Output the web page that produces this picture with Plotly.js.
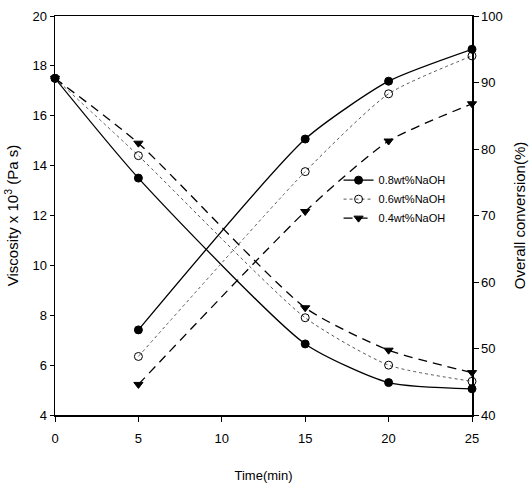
<!DOCTYPE html>
<html><head><meta charset="utf-8">
<script src="https://cdn.plot.ly/plotly-3.0.1.min.js"></script>
<style>html,body{margin:0;padding:0;background:#fff;}</style>
</head><body>
<div id="chart" style="width:531px;height:487px;"></div>
<script>
const time = [0, 5, 15, 20, 25];
const timeConv = [5, 15, 20, 25];
const series = ['0.8wt%NaOH', '0.6wt%NaOH', '0.4wt%NaOH'];
const visc08 = [17.5, 13.5, 6.85, 5.3, 5.05];
const visc06 = [17.5, 14.4, 7.9, 6.0, 5.35];
const visc04 = [17.5, 14.9, 8.3, 6.6, 5.7];
const conv08 = [52.8, 81.5, 90.2, 95.0];
const conv06 = [48.8, 76.6, 88.3, 94.0];
const conv04 = [44.6, 70.6, 81.2, 86.8];
const xTicks = [0, 5, 10, 15, 20, 25];
const yTicks = [4, 6, 8, 10, 12, 14, 16, 18, 20];
const y2Ticks = [40, 50, 60, 70, 80, 90, 100];

const styles = [
  {line: {color: '#000', width: 1.3, dash: 'solid', shape: 'spline', smoothing: 0.6},
   marker: {symbol: 'circle', size: 8, color: '#000', line: {color: '#000', width: 1}}},
  {line: {color: '#555', width: 1, dash: 'dot', shape: 'spline', smoothing: 0.6},
   marker: {symbol: 'circle-open', size: 8, color: '#000', line: {color: '#000', width: 1}}},
  {line: {color: '#000', width: 1.3, dash: '9px,6px', shape: 'spline', smoothing: 0.6},
   marker: {symbol: 'triangle-down', size: 8, color: '#000', line: {color: '#000', width: 1}}}
];
const viscs = [visc08, visc06, visc04];
const convs = [conv08, conv06, conv04];
const traces = [];
for (let i = 0; i < 3; i++) {
  traces.push({x: time, y: viscs[i], type: 'scatter', mode: 'lines+markers', name: series[i],
    line: styles[i].line, marker: styles[i].marker, showlegend: false, cliponaxis: false, yaxis: 'y'});
}
for (let i = 0; i < 3; i++) {
  traces.push({x: timeConv, y: convs[i], type: 'scatter', mode: 'lines+markers', name: series[i],
    line: styles[i].line, marker: styles[i].marker, showlegend: true, cliponaxis: false, yaxis: 'y2'});
}
const fam = 'Liberation Sans, Arial, sans-serif';
const layout = {
  width: 531, height: 487,
  margin: {l: 55, r: 59, t: 16, b: 72},
  paper_bgcolor: '#fff', plot_bgcolor: '#fff',
  font: {family: fam, color: '#000', size: 13},
  showlegend: true,
  legend: {x: 0.68, y: 0.625, xanchor: 'left', yanchor: 'top', bgcolor: 'rgba(0,0,0,0)',
    font: {family: fam, size: 11, color: '#000'}, tracegroupgap: 0, itemwidth: 30},
  xaxis: {range: [0, 25], tickvals: xTicks, ticks: 'outside', ticklen: 5, tickcolor: '#000',
    showline: true, linecolor: '#000', linewidth: 1.5, mirror: true, showgrid: false, zeroline: false,
    ticklabelstandoff: 6,
    tickfont: {family: fam, size: 13, color: '#000'},
    title: {text: 'Time(min)', font: {family: fam, size: 13, color: '#000'}, standoff: 26}},
  yaxis: {range: [4, 20], tickvals: yTicks, ticks: 'outside', ticklen: 4, tickcolor: '#000',
    showline: true, linecolor: '#000', linewidth: 1.5, showgrid: false, zeroline: false,
    tickfont: {family: fam, size: 13, color: '#000'},
    title: {text: 'Viscosity x 10<sup>3</sup> (Pa s)', font: {family: fam, size: 15, color: '#000'}, standoff: 10}},
  yaxis2: {range: [40, 100], tickvals: y2Ticks, overlaying: 'y', side: 'right', ticks: 'outside', ticklen: 5, tickcolor: '#000',
    showline: true, linecolor: '#000', linewidth: 1.5, showgrid: false, zeroline: false,
    tickfont: {family: fam, size: 13, color: '#000'},
    title: {text: 'Overall conversion(%)', font: {family: fam, size: 15, color: '#000'}, standoff: 12}}
};
Plotly.newPlot('chart', traces, layout, {displayModeBar: false, staticPlot: true});
</script>
</body></html>
